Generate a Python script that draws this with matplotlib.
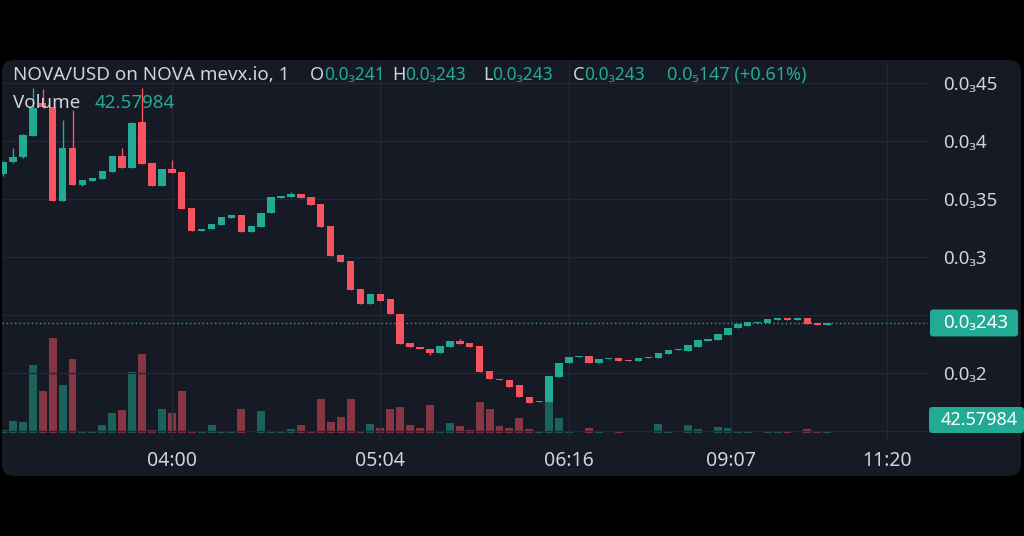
import numpy as np
import matplotlib
matplotlib.use("Agg")
import matplotlib.pyplot as plt
from matplotlib.patches import FancyBboxPatch
from matplotlib.ticker import FuncFormatter

plt.rcParams['font.family'] = ['Noto Sans', 'DejaVu Sans']

# prices are read in units of 0.0001 USD
PRICE_UNIT = 1e-4

opens = np.array([
    3.716, 3.819, 3.862, 4.043, 4.33, 4.293, 3.483, 3.940, 3.621, 3.655,
    3.672, 3.733, 3.871, 3.767, 4.164, 3.810, 3.612, 3.759, 3.733, 3.422,
    3.224, 3.241, 3.276, 3.336, 3.362, 3.216, 3.259, 3.379, 3.509, 3.517,
    3.543, 3.517, 3.457, 3.267, 3.017, 2.966, 2.724, 2.595, 2.681, 2.638,
    2.509, 2.259, 2.224, 2.207, 2.172, 2.224, 2.276, 2.259, 2.233, 2.017,
    1.948, 1.940, 1.897, 1.793, 1.750, 1.750, 1.966, 2.086, 2.138, 2.147,
    2.086, 2.121, 2.129, 2.112, 2.103, 2.129, 2.129, 2.164, 2.198, 2.190,
    2.224, 2.276, 2.284, 2.328, 2.388, 2.405, 2.431, 2.431, 2.460, 2.466,
    2.460, 2.474, 2.431, 2.414]) * PRICE_UNIT

closes = np.array([
    3.819, 3.862, 4.052, 4.284, 4.29, 3.483, 3.940, 3.621, 3.664, 3.681,
    3.741, 3.871, 3.767, 4.155, 3.802, 3.612, 3.759, 3.724, 3.414, 3.224,
    3.241, 3.284, 3.345, 3.362, 3.216, 3.267, 3.379, 3.517, 3.526, 3.543,
    3.509, 3.448, 3.259, 3.009, 2.957, 2.716, 2.595, 2.681, 2.621, 2.509,
    2.250, 2.224, 2.207, 2.172, 2.233, 2.276, 2.250, 2.224, 2.009, 1.948,
    1.940, 1.879, 1.793, 1.741, 1.759, 1.974, 2.086, 2.138, 2.147, 2.086,
    2.121, 2.129, 2.103, 2.103, 2.129, 2.138, 2.172, 2.198, 2.207, 2.241,
    2.284, 2.293, 2.336, 2.388, 2.422, 2.440, 2.440, 2.466, 2.466, 2.460,
    2.466, 2.422, 2.414, 2.431]) * PRICE_UNIT

highs = np.array([
    3.83, 3.94, 4.06, 4.457, 4.45, 4.293, 4.181, 4.267, 3.664, 3.681,
    3.741, 3.871, 3.940, 4.16, 4.457, 3.810, 3.759, 3.836, 3.733, 3.422,
    3.241, 3.284, 3.345, 3.362, 3.362, 3.267, 3.379, 3.517, 3.526, 3.560,
    3.543, 3.517, 3.457, 3.267, 3.017, 2.966, 2.724, 2.681, 2.681, 2.638,
    2.509, 2.259, 2.224, 2.207, 2.233, 2.276, 2.293, 2.259, 2.233, 2.017,
    1.948, 1.940, 1.897, 1.793, 1.759, 1.974, 2.086, 2.138, 2.147, 2.147,
    2.121, 2.129, 2.129, 2.112, 2.129, 2.138, 2.172, 2.198, 2.207, 2.241,
    2.284, 2.293, 2.336, 2.388, 2.422, 2.440, 2.440, 2.466, 2.466, 2.466,
    2.466, 2.474, 2.431, 2.431]) * PRICE_UNIT

lows = np.array([
    3.70, 3.81, 3.855, 4.04, 4.284, 3.483, 3.483, 3.621, 3.615, 3.655,
    3.672, 3.733, 3.767, 3.767, 3.802, 3.612, 3.612, 3.724, 3.414, 3.224,
    3.224, 3.241, 3.276, 3.336, 3.216, 3.216, 3.259, 3.379, 3.509, 3.517,
    3.509, 3.448, 3.259, 3.009, 2.957, 2.716, 2.595, 2.595, 2.621, 2.509,
    2.250, 2.224, 2.207, 2.155, 2.172, 2.224, 2.250, 2.224, 2.009, 1.948,
    1.940, 1.879, 1.793, 1.741, 1.750, 1.750, 1.966, 2.086, 2.138, 2.086,
    2.086, 2.121, 2.103, 2.103, 2.103, 2.129, 2.129, 2.164, 2.198, 2.190,
    2.224, 2.276, 2.284, 2.328, 2.388, 2.405, 2.431, 2.431, 2.460, 2.460,
    2.460, 2.422, 2.414, 2.414]) * PRICE_UNIT

volumes = np.array([
    84, 336, 308, 1904, 1176, 2660, 1344, 2072, 56, 28,
    224, 560, 644, 1708, 2212, 84, 672, 560, 1176, 28,
    28, 224, 56, 28, 672, 14, 616, 56, 56, 112,
    224, 28, 952, 308, 448, 952, 28, 252, 140, 672,
    728, 224, 140, 784, 28, 280, 196, 84, 868, 672,
    196, 140, 420, 112, 28, 868, 420, 28, 14, 140,
    56, 14, 28, 14, 14, 14, 252, 28, 14, 224,
    112, 14, 168, 140, 56, 56, 14, 28, 28, 28,
    14, 112, 56, 42.57984])

time_ticks = [17, 38, 57, 73.3, 89]
time_labels = ['04:00', '05:04', '06:16', '09:07', '11:20']

price_ticks = np.arange(1.5, 4.51, 0.5) * PRICE_UNIT
hidden_ticks = [1.5 * PRICE_UNIT, 2.5 * PRICE_UNIT]

header_title = 'NOVA/USD on NOVA mevx.io, 1'
header_ohlc = [('O', 0.000241), ('H', 0.000243), ('L', 0.000243), ('C', 0.000243)]
header_change = 0.00000147
header_pct = 0.61

PANEL = '#161a25'
UP = '#22ab94'
DOWN = '#f7525f'
TEXT = '#d1d4dc'
GRID = '#242836'

SUB = str.maketrans('0123456789', '₀₁₂₃₄₅₆₇₈₉')


def fmt_price(v):
    # 3 significant digits, leading zeros shown as a subscript count
    s = np.format_float_positional(v, precision=3, unique=False, fractional=False, trim='-')
    frac = s.split('.')[1]
    digits = frac.lstrip('0')
    zeros = len(frac) - len(digits)
    return '0.0' + str(zeros).translate(SUB) + digits


def tick_fmt(v, pos):
    for h in hidden_ticks:
        if abs(v - h) < 1e-9:
            return ''
    return fmt_price(v)


W, H = 1024, 536
fig = plt.figure(figsize=(W / 100, H / 100), dpi=100, facecolor='black')

# rounded dark panel, in pixel coords
panel = FancyBboxPatch((2, 60), 1019, 416, boxstyle='round,pad=0,rounding_size=12',
                       transform=None, fc=PANEL, ec='none', zorder=0)
fig.add_artist(panel)

rect = [2 / W, 96 / H, 926 / W, 378 / H]
vol_ax = fig.add_axes(rect)
ax = fig.add_axes(rect)
for a in (vol_ax, ax):
    a.patch.set_visible(False)
    for s in a.spines.values():
        s.set_visible(False)

x = np.arange(len(opens))
up = closes >= opens
colors = np.where(up, UP, DOWN)

# volume, drawn underneath
vol_ax.bar(x, volumes, width=0.8, color=colors, alpha=0.5, linewidth=0)
vol_ax.set_xlim(-0.1, 93.15)
vol_ax.set_ylim(-7 * 28, 371 * 28)
vol_ax.set_xticks([])
vol_ax.set_yticks([])

# candles
ax.vlines(x, lows, highs, colors=colors, linewidth=1, zorder=2)
body_low = np.minimum(opens, closes)
body_h = np.maximum(np.abs(closes - opens), 0.01 * PRICE_UNIT)
ax.bar(x, body_h, bottom=body_low, width=0.75, color=colors, linewidth=0, zorder=3)

ax.set_xlim(-0.1, 93.15)
ax.set_ylim(1.422 * PRICE_UNIT, 4.681 * PRICE_UNIT)
ax.set_yticks(price_ticks)
ax.yaxis.set_major_formatter(FuncFormatter(tick_fmt))
ax.yaxis.tick_right()
ax.set_xticks(time_ticks)
ax.set_xticklabels(time_labels)
ax.tick_params(length=0, colors=TEXT)
ax.tick_params(axis='y', pad=11, labelsize=13.5)
ax.tick_params(axis='x', pad=8, labelsize=14)
ax.grid(True, color=GRID, linewidth=1, zorder=0)
ax.set_axisbelow(True)

last = closes[-1]
ax.axhline(last, color=UP, linestyle=(0, (1, 2)), linewidth=1, zorder=1)

# price scale labels for the last price and the last volume
fig.canvas.draw()
y_last = ax.transData.transform((0, last))[1]
box = FancyBboxPatch((930, y_last - 13.5), 88, 27, boxstyle='round,pad=0,rounding_size=3',
                     transform=None, fc=UP, ec='none', zorder=5)
fig.add_artist(box)
fig.text(943 / W, y_last / H, fmt_price(last), color='white', fontsize=13.5,
         va='center', ha='left', zorder=6)

y_vol = vol_ax.transData.transform((0, 0))[1] + 13
vbox = FancyBboxPatch((929, y_vol - 13), 95, 26, boxstyle='round,pad=0,rounding_size=3',
                      transform=None, fc=UP, ec='none', zorder=5)
fig.add_artist(vbox)
fig.text(941 / W, y_vol / H, f"{volumes[-1]:.5f}", color='white', fontsize=13,
         va='center', ha='left', zorder=6)

# legend lines at the top
renderer = fig.canvas.get_renderer()


def put(xpix, ypix, s, color, size=13):
    t = fig.text(xpix / W, 1 - ypix / H, s, color=color, fontsize=size, va='center', ha='left')
    bb = t.get_window_extent(renderer)
    return xpix + bb.width


put(13, 75, header_title, TEXT, 13.5)
letter_x = [310, 392, 483, 573]
for (letter, val), lx in zip(header_ohlc, letter_x):
    nx = put(lx, 75, letter, TEXT)
    put(nx, 75, fmt_price(val), UP, 12.5)
put(667, 75, f"{fmt_price(header_change)} (+{header_pct:.2f}%)", UP, 13)

nx = put(13, 103, 'Volume', TEXT, 13.5)
put(nx + 14, 103, f"{volumes[-1]:.5f}", UP, 13.5)

fig.savefig('out.png', dpi=100, facecolor='black')
